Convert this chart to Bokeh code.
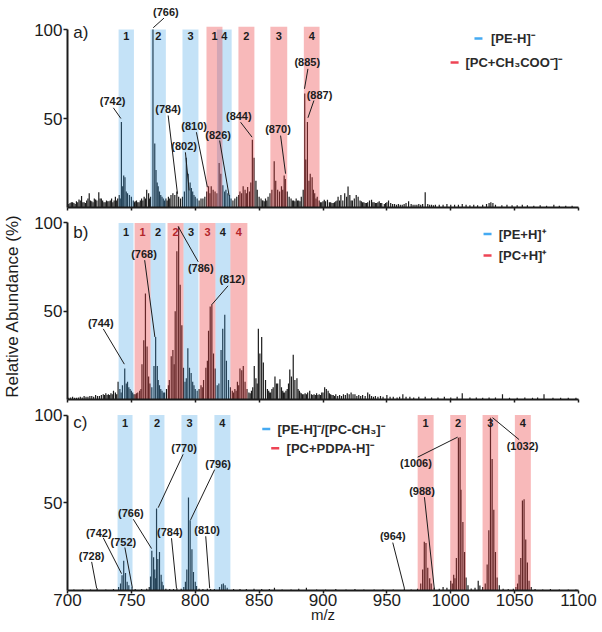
from bokeh.plotting import figure
from bokeh.layouts import column
from bokeh.models import FixedTicker, Range1d
from bokeh.core.properties import value
from bokeh.embed import file_html
from bokeh.resources import INLINE

FONT = "Liberation Sans"

# ---------------- data ----------------
x_ticks = [700, 750, 800, 850, 900, 950, 1000, 1050, 1100]
y_ticks = [50, 100]
band_numbers = ["1", "2", "3", "4"]

# (m/z, relative abundance %) read from panel a)
spec_a = [
    (701, 2), (702, 2.5), (703, 3), (704, 3), (705, 2.5), (706, 2), (707, 3.5), (708, 3),
    (709, 4.5), (710, 4), (711, 6.5), (712, 3), (713, 3), (714, 2.5), (715, 4), (716, 5),
    (717, 8), (718, 4), (719, 3.5), (720, 3), (721, 5), (722, 4.5), (723, 4), (724.5, 8.5),
    (725.5, 5), (726.5, 5), (727.5, 4), (728.5, 3), (729.5, 3), (730.5, 4), (731.5, 3.5),
    (732.5, 3.5), (733.5, 4), (734.5, 5), (735.5, 3), (736.5, 4), (737.5, 6), (738.5, 4),
    (739.3, 5), (740.5, 7), (741.3, 5),
    (742.2, 48), (743.2, 12), (744, 18), (745, 17), (746, 9), (747, 8), (748.5, 7), (750, 6),
    (751.5, 4), (752.5, 3), (753, 3.5), (754, 4), (755, 3), (756, 3), (757, 4), (758, 5),
    (759, 4), (760, 6), (761, 5), (762, 10), (763.5, 8), (764.3, 5), (765, 6), (766.9, 100),
    (768.3, 36), (769.3, 21), (770.2, 14), (771, 12), (772, 9), (773, 7), (774, 6), (775, 5),
    (776, 4), (777, 5), (778, 4), (779, 6), (780, 5), (781, 7), (782.5, 8), (784, 7),
    (785.6, 9), (787, 6), (788.5, 5), (790, 6), (791.5, 9), (793, 28), (794.5, 19), (796, 14),
    (797, 11), (798, 9), (799, 7), (800, 6), (801.5, 5), (803, 4), (804.5, 5), (806, 5),
    (807.5, 6), (809, 9), (810.4, 12), (811.5, 8), (812.5, 12), (814, 10), (815.5, 9),
    (817, 8), (818.7, 25), (820, 19), (821.6, 12.5), (823, 9), (824, 10), (825.5, 8),
    (826.8, 7), (828, 5), (829.5, 4), (831, 5), (832.5, 6), (834, 7), (835, 9), (836.3, 8),
    (837.5, 12), (839, 10), (840, 8), (841, 11.5), (842.5, 9), (843.5, 14), (844.7, 38),
    (846, 28), (847.5, 15), (848.5, 10), (850, 6), (851.5, 5), (852.5, 4), (853, 4),
    (854, 3.5), (855, 5), (856, 4), (857, 6), (858.5, 8), (860, 10), (861.8, 26), (863, 15),
    (864.5, 10), (866, 9), (867.5, 12), (868.5, 10), (869.6, 18), (870.5, 16), (872, 9),
    (873.5, 6), (875, 5), (876, 4), (877, 4), (878, 3.5), (879, 5), (880, 4), (881, 4),
    (882, 3.5), (883, 6), (884.5, 10), (885.7, 64), (886.5, 27), (887.8, 48), (889, 15),
    (890, 19), (891.5, 17), (892.5, 10), (893.5, 8), (894.5, 5), (895.5, 6), (897, 4),
    (898, 3), (899, 3), (900, 3.5), (901, 4.4), (902, 3.5), (903.5, 4.4), (905, 3),
    (906, 3), (907, 2.5), (908, 2.5), (909, 3), (910, 3.5), (911, 4), (911.8, 6), (913, 4),
    (914, 7), (915.5, 4), (917, 8), (918.5, 6), (919.6, 11.8), (921, 7), (922, 4), (923, 4),
    (924.5, 5), (926, 7), (927.5, 6), (929, 4), (930, 3.5), (931, 3), (932, 3), (933, 2.5),
    (934, 2.5), (935, 3), (936.4, 4), (938, 4.4), (939, 3), (940, 3), (941, 2.5), (942, 2.5),
    (943, 3), (944, 3.5), (945, 2.5), (946, 2.5), (948, 2), (949, 2.5), (950, 3), (951.3, 4),
    (953, 2.5), (954.5, 2), (956, 2), (957.5, 1.5), (959, 2), (960.5, 1.5), (962, 1.5),
    (963.5, 2), (965, 2.5), (967, 3.5), (969, 2), (970.5, 1.5), (972, 1.5), (973.5, 1.5),
    (975, 2), (976.5, 1.5), (978, 2), (980, 8.5), (982, 2), (983.5, 1.5), (985, 1.5),
    (986.5, 1.2), (988, 1.5), (991, 1.5), (994, 1.5), (997, 2), (1000, 1.5), (1003, 1.5),
    (1006, 1.5), (1009, 2), (1012, 1.5), (1015, 1.2), (1018, 1.5), (1021, 1.2), (1025, 1.5),
    (1028, 2), (1030, 2.5), (1031.4, 3), (1033, 2.5), (1035, 1.5), (1040, 1.2), (1044, 1.5),
    (1048, 1.2), (1052, 1.2), (1056, 1.5), (1060, 1.2), (1065, 1), (1070, 1.2), (1075, 1),
    (1080.7, 1.5), (1085, 1), (1090, 1), (1095, 1),
]

# panel b)
spec_b = [
    (701, 1), (702.5, 1.2), (704, 1.5), (705.5, 1), (707, 1), (708.5, 1.2), (710, 1.5),
    (711.5, 1.2), (713, 2), (714.5, 1.5), (716, 1.5), (717.5, 2), (719, 2), (720.5, 1.5),
    (722, 2.5), (723.5, 2), (725, 2), (726.5, 2.5), (728, 3), (729, 2.5), (730, 3.5),
    (731, 2.5), (732, 3), (733, 2.5), (734, 3.5), (735, 3), (736, 5), (737.5, 4),
    (738.5, 3), (739.6, 10), (741, 6), (742, 4), (743, 8), (744.8, 17.6), (746, 9), (747, 10),
    (748, 7), (749, 6), (750, 5), (751, 4), (752, 3), (753, 3), (754, 3.5), (755, 4),
    (756.5, 5), (757.5, 6), (758.3, 20), (759.7, 33.6), (761, 60), (762.3, 30), (763.5, 13),
    (764.5, 9), (766, 7), (767.7, 19), (769, 35.4), (770.3, 19), (771, 11), (772, 8),
    (773, 6), (774, 5), (775, 4), (776, 4), (777.5, 6), (779, 8), (779.7, 11), (781.2, 24.5),
    (782.5, 28), (783.5, 20), (784.3, 50), (785.6, 84), (787, 98), (788.2, 65), (789.5, 42),
    (790.8, 18), (792, 10), (793, 12), (794.2, 29), (795.5, 18), (796.8, 15), (798, 10),
    (799, 8), (800, 6), (801.5, 5), (803, 6), (804.5, 8), (805.5, 7), (806.5, 11),
    (808.3, 18), (809.5, 22), (810.4, 39), (811.7, 52.6), (813, 53.5), (814.3, 26),
    (815.6, 17.5), (817.2, 8), (818.5, 9), (820.2, 28), (821.5, 40), (823.1, 48),
    (824.4, 22), (826, 11), (827.5, 7), (829, 5), (830, 4), (831, 6), (832, 5), (833, 10),
    (834, 8), (835, 17.5), (836.4, 16.5), (837.6, 19), (839, 10), (840.5, 6), (842, 4),
    (843, 3.5), (844, 5), (845, 7), (846.2, 19), (847.5, 12), (848.5, 9), (849.4, 40),
    (850.6, 26), (852, 35.4), (853.3, 21), (855, 11), (856.5, 6), (857.5, 5), (858, 4),
    (859, 4), (860, 6), (861, 7), (862.4, 13), (863.5, 9), (864.5, 9), (866.3, 11.5),
    (867.5, 7), (868.5, 5), (869, 4), (870, 4), (871, 5), (872, 6), (873, 9), (874, 17),
    (875.3, 13), (876.7, 25.4), (878, 11), (879.6, 12), (880.5, 6), (881.5, 5), (882, 4),
    (883, 3.5), (884, 3), (885, 3), (886, 3.5), (887, 3), (888, 4), (889.6, 5), (891, 3),
    (892, 2.5), (893, 3), (894, 2.5), (895, 3.5), (896, 2.5), (897, 3), (898, 2.5), (899, 4),
    (900, 4), (901.3, 7), (902.6, 6), (904, 5), (905, 3.5), (906, 3), (907, 2.5), (908, 2.5),
    (909, 2), (910, 3), (911.5, 2), (913, 2.5), (914.5, 2), (916, 3), (917.5, 2.5), (919, 3.5),
    (920.5, 3), (922, 4), (923.5, 3), (925, 3), (926.5, 2), (928, 2.5), (929.5, 2),
    (931, 2.5), (933, 2), (935, 4), (936.5, 3), (938, 2), (939.5, 1.5), (941, 2), (943, 1.5),
    (945, 2), (947, 1.5), (950, 2.5), (952.5, 1.5), (955, 1.5), (958, 1.2), (960, 1.5),
    (962.5, 3), (965, 1.5), (968, 1.5), (971, 1.2), (975, 1.5), (980, 1.5), (985, 1.2),
    (990, 1.2), (995, 1.5), (1000, 1.2), (1005, 1.5), (1009, 3.5), (1015, 1.2), (1020, 1.2),
    (1025, 1), (1030, 1.2), (1035, 1.2), (1040.5, 3), (1046, 1), (1052, 1), (1058, 1.2),
    (1064, 1), (1068, 1.2), (1073, 3), (1080, 1), (1086, 1), (1092, 1), (1098, 1),
]

# panel c)
spec_c = [
    (705, 0.5), (712, 0.6), (718, 0.6), (723.2, 1.3), (730, 0.6), (736, 0.8), (740, 2),
    (741.5, 4), (742.7, 8.7), (744, 17), (745.4, 10), (746.7, 5), (748, 3), (750.5, 2),
    (753, 0.8), (758, 0.8), (762, 1), (764, 2), (765, 8), (766, 22.6), (767.4, 19),
    (768.3, 12), (769, 7), (769.7, 46.7), (770.7, 18), (772, 22), (773.3, 9), (774, 5),
    (775, 3), (777, 1), (780, 0.8), (783, 0.8), (785.6, 1.3), (789, 1), (791, 2),
    (792.3, 5), (793.4, 12), (794.7, 53), (796, 40), (797.4, 23.5), (798.6, 10.5),
    (800, 5), (801, 2.5), (803, 1), (806, 0.8), (809.5, 1), (812, 0.8), (815, 0.8),
    (819, 2), (820.7, 3.5), (822, 4), (823.4, 3), (825, 1.5), (830, 0.8), (835, 0.8),
    (840, 0.8), (846, 1), (852, 0.8), (858, 0.8), (862, 1.5), (868, 0.6), (875, 0.6),
    (881, 1), (887, 1.5), (895, 0.6), (902, 0.6), (910, 0.8), (918, 0.6), (925, 0.8),
    (932, 0.6), (940, 0.6), (947, 0.6), (955, 0.6), (963.7, 1.3), (969, 0.6), (974, 1),
    (976.5, 4), (978, 12), (979.3, 27.8), (980.6, 27), (982, 13), (983.5, 7), (984.7, 4),
    (987, 1.5), (991, 1), (994, 2), (997, 1.5), (1000, 5.5), (1001.2, 4), (1002.3, 9),
    (1003.3, 7), (1004.4, 18.5), (1006, 87), (1007.3, 87.4), (1008, 57.4), (1009.5, 39),
    (1010.8, 22), (1012, 7.4), (1013.5, 3), (1016, 1.2), (1019, 1.5), (1021.5, 5.5),
    (1022.8, 2.8), (1025, 2), (1027, 4), (1028.5, 14.8), (1029.8, 34.3), (1031.1, 98.5),
    (1032.4, 75), (1033.7, 46), (1035, 22), (1036.3, 7.4), (1038, 3), (1041, 1),
    (1045, 0.8), (1049, 1), (1051, 2), (1052.3, 4), (1053.5, 9), (1054.8, 18.5),
    (1056.1, 51.3), (1057.4, 52), (1058.7, 29), (1060, 16), (1061.3, 5.5), (1063, 2),
    (1066, 0.8), (1072, 0.6), (1078, 0.8), (1085, 0.6), (1092, 0.6), (1098, 0.5),
]

# highlighted m/z windows (start, end)
bands_a_blue = [(740, 752), (765, 777), (790, 802.5), (817, 828.5)]
bands_a_red = [(808.8, 821.3), (833.8, 846.3), (858.8, 872), (885, 897.3)]
bands_b_blue = [(740, 751.7), (765, 776.7), (790.8, 802.5), (815.8, 827.5)]
bands_b_red = [(752.5, 765), (778.3, 790.8), (803.3, 815.8), (827.5, 840.8)]
bands_c_blue = [(739.2, 750.9), (764.2, 775.9), (789.2, 801.7), (815, 827.5)]
bands_c_red = [(974.1, 986.6), (999.6, 1011.9), (1024.9, 1037.1), (1050.2, 1062.7)]

# peak annotations: text, label (m/z, %), leader start (m/z, %), leader end (m/z, %)
notes_a = [
    ("(766)", 777, 110.0, 775.5, 106.4, 767.1, 101.0),
    ("(742)", 735.3, 59.6, 735.9, 56.0, 741.8, 50.0),
    ("(784)", 778.8, 55.1, 778.8, 51.7, 786.1, 7.7),
    ("(802)", 791.3, 34.8, 792.3, 31.0, 795.2, 9.6),
    ("(810)", 799.1, 45.7, 800.9, 42.3, 809.5, 11.4),
    ("(826)", 817.9, 40.8, 819.1, 37.6, 826.5, 6.7),
    ("(844)", 834.1, 51.5, 835.5, 47.9, 844.5, 39.5),
    ("(870)", 864.8, 44.2, 866.8, 40.4, 870.7, 19.0),
    ("(885)", 887.7, 81.6, 888.2, 77.9, 885.5, 66.7),
    ("(887)", 897.3, 63.3, 892.9, 60.1, 888.2, 50.4),
]
notes_b = [
    ("(744)", 726, 43.6, 728, 40.0, 744.5, 20.0),
    ("(768)", 759.9, 82.5, 760.4, 78.9, 768.4, 35.4),
    ("(786)", 804.3, 74.3, 802.3, 78.0, 786.6, 98.0),
    ("(812)", 829, 68.0, 825.7, 64.4, 812.7, 53.5),
]
notes_c = [
    ("(728)", 718.9, 19.8, 718.9, 16.3, 722.8, 1.3),
    ("(742)", 724.5, 32.8, 728, 30.0, 742.3, 9.6),
    ("(752)", 743.7, 27.8, 744.9, 24.5, 750.7, 1.8),
    ("(766)", 749.6, 44.3, 751.5, 40.6, 765.8, 23.9),
    ("(770)", 791.3, 81.0, 790.5, 77.6, 771, 47.2),
    ("(784)", 780.1, 33.2, 781.4, 29.8, 785.3, 1.3),
    ("(796)", 817.9, 72.2, 815.2, 68.9, 796.3, 40.2),
    ("(810)", 809.3, 34.3, 808.2, 30.9, 811.3, 1.3),
    ("(964)", 954.6, 31.0, 954.6, 27.3, 963.7, 1.3),
    ("(988)", 977.5, 56.5, 979.4, 53.2, 987.2, 0.6),
    ("(1006)", 972.8, 72.6, 974.1, 76.0, 1005.4, 87.4),
    ("(1032)", 1056.2, 82.2, 1053.5, 86.0, 1032.7, 98.5),
]

legend_a = ["[PE-H]\u207b", "[PC+CH\u2083COO\u207b]\u207b"]
legend_b = ["[PE+H]\u207a", "[PC+H]\u207a"]
legend_c = ["[PE-H]\u207b/[PC-CH\u2083]\u207b", "[PC+PDPA-H]\u207b"]

BLUE_BAND = "#3ca0e6"
RED_BAND = "#eb3c41"
BLUE_DASH = "#45aaf2"
RED_DASH = "#ee4455"
INK = "#1c1c1c"


def build(spec, blue, red, notes, legend, tag, tag_y, height, y_top, border_bottom,
          num_y, red_num_color, red_top, leg_pos, bottom_axis):
    p = figure(width=602, height=height, x_range=Range1d(700, 1100),
               y_range=Range1d(0, y_top), output_backend="svg", toolbar_location=None,
               min_border_left=67, min_border_right=24, min_border_top=0,
               min_border_bottom=border_bottom)
    p.outline_line_color = None
    p.grid.visible = False

    mz = [s[0] for s in spec]
    ab = [s[1] for s in spec]
    p.segment(x0=mz, y0=[0] * len(mz), x1=mz, y1=ab, line_color=INK, line_width=1.2)

    p.quad(left=[b[0] for b in blue], right=[b[1] for b in blue], bottom=0, top=100,
           fill_color=BLUE_BAND, fill_alpha=0.3, line_color=None)
    p.quad(left=[b[0] for b in red], right=[b[1] for b in red], bottom=0, top=red_top,
           fill_color=RED_BAND, fill_alpha=0.36, line_color=None)

    # band numbers
    p.text(x=[(b[0] + b[1]) / 2 for b in blue], y=[num_y] * 4, text=band_numbers,
           text_font=value(FONT), text_font_style="bold", text_font_size="11px",
           text_align="center", text_baseline="middle", text_color=INK)
    p.text(x=[(b[0] + b[1]) / 2 for b in red], y=[num_y] * 4, text=band_numbers,
           text_font=value(FONT), text_font_style="bold", text_font_size="11px",
           text_align="center", text_baseline="middle", text_color=red_num_color)

    # peak annotations
    p.segment(x0=[n[3] for n in notes], y0=[n[4] for n in notes],
              x1=[n[5] for n in notes], y1=[n[6] for n in notes],
              line_color=INK, line_width=1)
    p.text(x=[n[1] for n in notes], y=[n[2] for n in notes], text=[n[0] for n in notes],
           text_font=value(FONT), text_font_style="bold", text_font_size="11px",
           text_align="center", text_baseline="middle", text_color=INK)

    # panel tag
    p.text(x=[704.5], y=[tag_y], text=[tag], text_font=value(FONT), text_font_size="17px",
           text_align="left", text_baseline="middle", text_color=INK)

    # legend
    (bx, by, tx1), (rx, ry, tx2) = leg_pos
    p.scatter(x=[bx], y=[by], marker="dash", size=8, line_color=BLUE_DASH, line_width=2.5)
    p.scatter(x=[rx], y=[ry], marker="dash", size=8, line_color=RED_DASH, line_width=2.5)
    p.text(x=[tx1, tx2], y=[by, ry], text=legend, text_font=value(FONT),
           text_font_style="bold", text_font_size="13px", text_align="left",
           text_baseline="middle", text_color="#2a2a2a")

    # axes
    xa = p.xaxis[0]
    xa.ticker = FixedTicker(ticks=x_ticks)
    xa.axis_line_width = 2
    xa.axis_line_color = INK
    xa.major_tick_line_width = 1.5
    xa.major_tick_line_color = INK
    xa.major_tick_in = 0
    xa.major_tick_out = 3
    xa.minor_tick_line_color = None
    if bottom_axis:
        xa.major_label_text_font = FONT
        xa.major_label_text_font_size = "17px"
        xa.major_label_text_color = INK
        xa.major_label_standoff = 0
        xa.axis_label = "m/z"
        xa.axis_label_text_font = FONT
        xa.axis_label_text_font_size = "15px"
        xa.axis_label_text_font_style = "normal"
        xa.axis_label_text_color = INK
        xa.axis_label_standoff = -3
    else:
        xa.major_label_overrides = {t: "" for t in x_ticks}
        xa.major_label_text_font_size = "1px"
        xa.major_label_standoff = 0

    ya = p.yaxis[0]
    ya.ticker = FixedTicker(ticks=y_ticks)
    ya.bounds = (0, 100)
    ya.axis_line_width = 2
    ya.axis_line_color = INK
    ya.major_tick_line_width = 1.5
    ya.major_tick_line_color = INK
    ya.major_tick_in = 0
    ya.major_tick_out = 4
    ya.minor_tick_line_color = None
    ya.major_label_text_font = FONT
    ya.major_label_text_font_size = "17px"
    ya.major_label_text_color = INK
    ya.major_label_standoff = 1
    return p


pa = build(spec_a, bands_a_blue, bands_a_red, notes_a, legend_a, "a)", 98.3,
           212, 116.3, 5, 96.6, INK, 101.5,
           ((1021.7, 95.0, 1031.5), (1003.0, 81.5, 1011.5)), False)
pb = build(spec_b, bands_b_blue, bands_b_red, notes_b, legend_b, "b)", 94.8,
           192, 105.9, 5, 94.6, "#b3262b", 100,
           ((1028.8, 93.7, 1037.5), (1028.8, 81.6, 1037.5)), False)
pc = build(spec_c, bands_c_blue, bands_c_red, notes_c, legend_c, "c)", 95.7,
           226, 106.0, 40, 95.4, INK, 100,
           ((855.6, 92.0, 864.3), (862.6, 81.0, 871.5)), True)

yb = pb.yaxis[0]
yb.axis_label = "Relative Abundance (%)"
yb.axis_label_text_font = FONT
yb.axis_label_text_font_size = "17px"
yb.axis_label_text_font_style = "normal"
yb.axis_label_text_color = INK
yb.axis_label_standoff = 9

layout = column(pa, pb, pc)
open("out.html", "w").write(file_html(layout, INLINE))
